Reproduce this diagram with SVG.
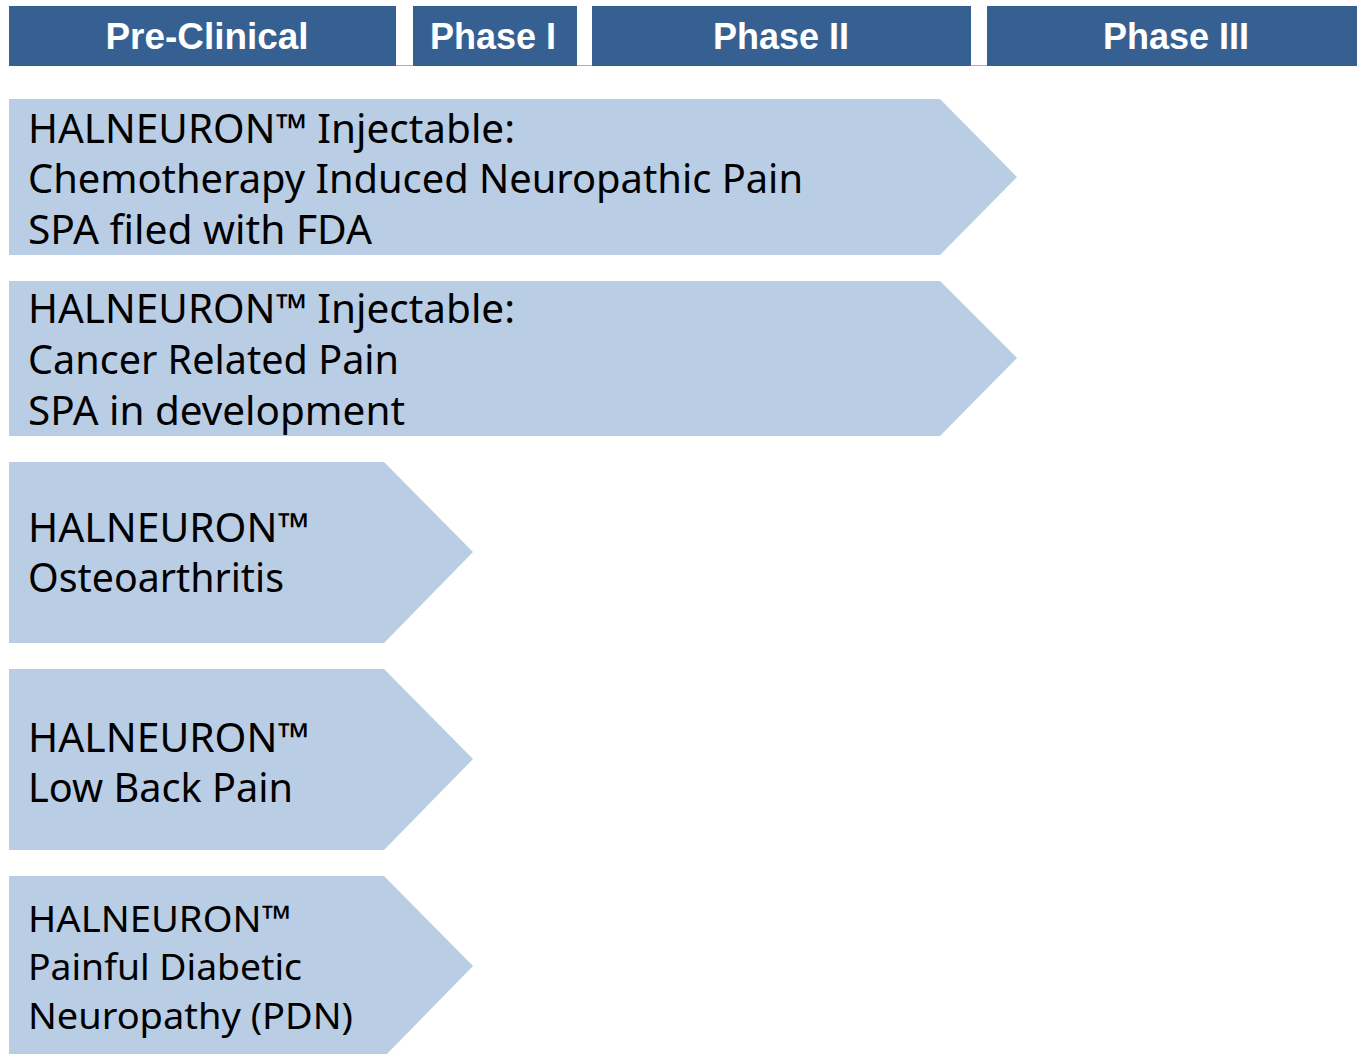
<svg xmlns="http://www.w3.org/2000/svg" width="1357" height="1054" viewBox="0 0 1357 1054">
  <style>
    .hdr { fill: #366092; }
    .hdr-t { font-family: "Liberation Sans", Arial, sans-serif; font-weight: bold; font-size: 36px; fill: #ffffff; text-anchor: middle; }
    .chev { fill: #b9cde4; }
    .lbl { font-family: "Noto Sans", "Open Sans", sans-serif; font-size: 40px; fill: #000000; }
    .lbl-s { font-family: "Noto Sans", "Open Sans", sans-serif; font-size: 37px; fill: #000000; }
  </style>
  <rect width="1357" height="1054" fill="#ffffff"/>

  <!-- phase header bar -->
  <g id="header">
    <line x1="9" y1="65.5" x2="1357" y2="65.5" stroke="#9fb0c8" stroke-width="1"/>
    <g id="hdr-preclinical">
      <rect class="hdr" x="9" y="6" width="387" height="60"/>
      <text class="hdr-t" x="207" y="49" textLength="203" lengthAdjust="spacingAndGlyphs">Pre-Clinical</text>
    </g>
    <g id="hdr-phase1">
      <rect class="hdr" x="413" y="6" width="164" height="60"/>
      <text class="hdr-t" x="493" y="49">Phase I</text>
    </g>
    <g id="hdr-phase2">
      <rect class="hdr" x="592" y="6" width="379" height="60"/>
      <text class="hdr-t" x="781" y="49">Phase II</text>
    </g>
    <g id="hdr-phase3">
      <rect class="hdr" x="987" y="6" width="370" height="60"/>
      <text class="hdr-t" x="1176" y="49">Phase III</text>
    </g>
  </g>

  <!-- programme chevrons -->
  <g id="prog-cinp">
    <polygon class="chev" points="9,99 940,99 1017,177 940,255 9,255"/>
    <text class="lbl" x="28" y="143" textLength="487" lengthAdjust="spacingAndGlyphs">HALNEURON™ Injectable:</text>
    <text class="lbl" x="28" y="193" textLength="775" lengthAdjust="spacingAndGlyphs">Chemotherapy Induced Neuropathic Pain</text>
    <text class="lbl" x="28" y="244" textLength="344" lengthAdjust="spacingAndGlyphs">SPA filed with FDA</text>
  </g>

  <g id="prog-cancer-pain">
    <polygon class="chev" points="9,281 940,281 1017,358 940,436 9,436"/>
    <text class="lbl" x="28" y="323" textLength="487" lengthAdjust="spacingAndGlyphs">HALNEURON™ Injectable:</text>
    <text class="lbl" x="28" y="374" textLength="371" lengthAdjust="spacingAndGlyphs">Cancer Related Pain</text>
    <text class="lbl" x="28" y="425" textLength="377" lengthAdjust="spacingAndGlyphs">SPA in development</text>
  </g>

  <g id="prog-osteoarthritis">
    <polygon class="chev" points="9,462 384,462 473,552 384,643 9,643"/>
    <text class="lbl" x="28" y="542" textLength="281" lengthAdjust="spacingAndGlyphs">HALNEURON™</text>
    <text class="lbl" x="28" y="592" textLength="256" lengthAdjust="spacingAndGlyphs">Osteoarthritis</text>
  </g>

  <g id="prog-low-back-pain">
    <polygon class="chev" points="9,669 384,669 473,759 384,850 9,850"/>
    <text class="lbl" x="28" y="752" textLength="281" lengthAdjust="spacingAndGlyphs">HALNEURON™</text>
    <text class="lbl" x="28" y="802" textLength="265" lengthAdjust="spacingAndGlyphs">Low Back Pain</text>
  </g>

  <g id="prog-pdn">
    <polygon class="chev" points="9,876 384,876 473,966 384,1057 9,1057"/>
    <text class="lbl-s" x="28" y="932" textLength="263" lengthAdjust="spacingAndGlyphs">HALNEURON™</text>
    <text class="lbl-s" x="28" y="980" textLength="274" lengthAdjust="spacingAndGlyphs">Painful Diabetic</text>
    <text class="lbl-s" x="28" y="1029" textLength="325" lengthAdjust="spacingAndGlyphs">Neuropathy (PDN)</text>
  </g>

  <g id="connectors"></g>
</svg>
